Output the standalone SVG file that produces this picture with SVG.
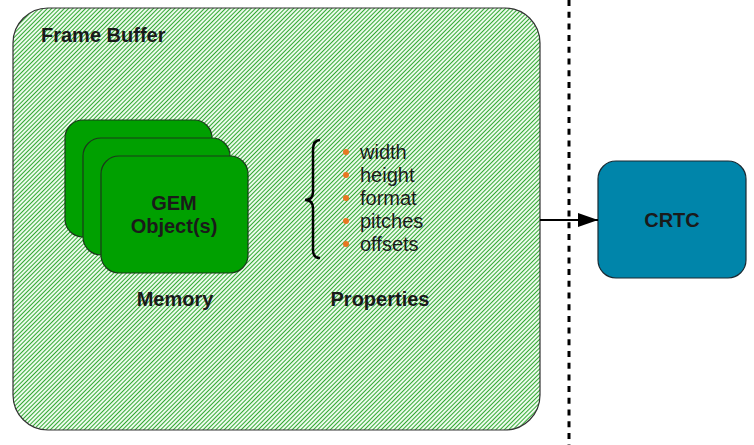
<svg xmlns="http://www.w3.org/2000/svg" width="754" height="445" viewBox="0 0 754 445">
<defs>
<pattern id="hatch" width="3" height="10" patternUnits="userSpaceOnUse" patternTransform="rotate(45)">
<rect width="3" height="10" fill="#ecfbec"/>
<rect width="1" height="10" fill="#33a833"/>
</pattern>
<marker id="arrowhead" markerWidth="20" markerHeight="14" refX="20" refY="7" orient="auto" markerUnits="userSpaceOnUse">
<path d="M0,0 L20,7 L0,14 Z" fill="#000"/>
</marker>
</defs>
<style>
.b{font-family:"Liberation Sans",Arial,sans-serif;font-weight:bold;font-size:20px;fill:#1a1a1a}
.r{font-family:"Liberation Sans",Arial,sans-serif;font-size:20px;fill:#1a1a1a}
.gem{fill:#00a000;stroke:#1a3a1a;stroke-width:1.2}
.dot{fill:#e87722}
</style>
<rect width="754" height="445" fill="#fff"/>
<g id="frame-buffer">
<rect x="13" y="8" width="527" height="422" rx="35" ry="35" fill="url(#hatch)" stroke="#333" stroke-width="1.2"/>
<text class="b" x="41" y="42">Frame Buffer</text>
</g>
<g id="gem-objects">
<rect class="gem" x="65" y="120" width="147" height="117" rx="18" ry="18"/>
<rect class="gem" x="83" y="138" width="147" height="117" rx="18" ry="18"/>
<rect class="gem" x="101" y="156" width="147" height="117" rx="18" ry="18"/>
<text class="b" x="174" y="210" text-anchor="middle">GEM</text>
<text class="b" x="174" y="233" text-anchor="middle">Object(s)</text>
<text class="b" x="175" y="306" text-anchor="middle">Memory</text>
</g>
<g id="properties">
<path d="M320,140 Q313,140 313,150 L313,192 Q313,200 305,200 Q313,200 313,208 L313,250 Q313,258 320,258" fill="none" stroke="#000" stroke-width="2.5"/>
<circle class="dot" cx="346" cy="152" r="3"/>
<circle class="dot" cx="346" cy="175" r="3"/>
<circle class="dot" cx="346" cy="198" r="3"/>
<circle class="dot" cx="346" cy="221" r="3"/>
<circle class="dot" cx="346" cy="244" r="3"/>
<text class="r" x="360" y="159">width</text>
<text class="r" x="360" y="182">height</text>
<text class="r" x="360" y="205">format</text>
<text class="r" x="360" y="228">pitches</text>
<text class="r" x="360" y="251">offsets</text>
<text class="b" x="380" y="306" text-anchor="middle">Properties</text>
</g>
<g id="crtc">
<rect x="598" y="161" width="148" height="117" rx="18" ry="18" fill="#0085aa" stroke="#1a2a33" stroke-width="1.2"/>
<text class="b" x="672" y="227" text-anchor="middle">CRTC</text>
</g>
<g id="connectors">
<line x1="569" y1="0" x2="569" y2="445" stroke="#000" stroke-width="3" stroke-dasharray="6 5.7"/>
<line x1="540" y1="220" x2="598" y2="220" stroke="#000" stroke-width="2.2" marker-end="url(#arrowhead)"/>
</g>
</svg>
